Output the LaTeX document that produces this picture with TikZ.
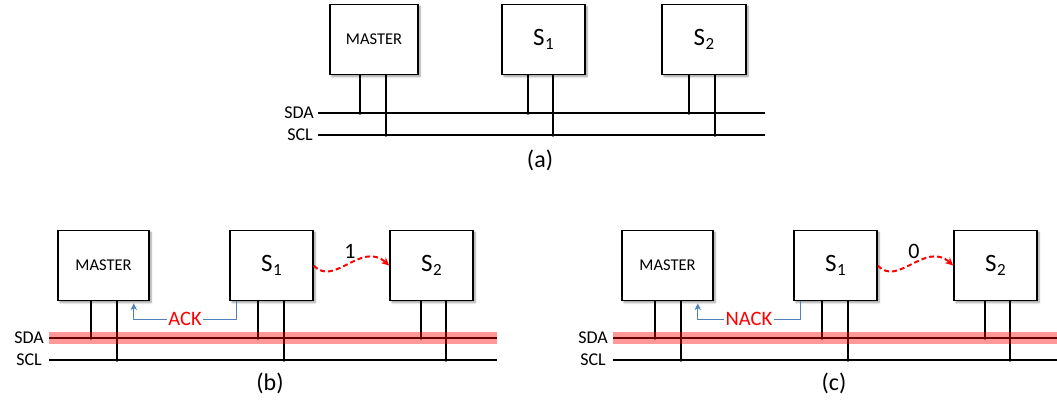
\documentclass[tikz,border=0pt]{standalone}
\usepackage{fontspec}
\setmainfont{Carlito}
\usetikzlibrary{shadows.blur,arrows.meta}
\definecolor{ackblue}{RGB}{79,129,189}
% slave name with a lowered index in the text font
\newcommand\slavename[1]{S\kern0.5pt\raisebox{-0.32ex}{\fontsize{17}{19}\selectfont #1}}
\begin{document}
\begin{tikzpicture}[x=1pt,y=-1pt,
  unit/.style={draw, line width=1.6pt, fill=white, inner sep=0pt,
    minimum height=70pt,
    blur shadow={shadow xshift=2pt, shadow yshift=-2pt,
      shadow blur steps=6, shadow opacity=40}},
  mastertxt/.style={font=\fontsize{16.5}{19}\selectfont},
  slavetxt/.style={font=\fontsize{25}{28}\selectfont},
  wire/.style={line width=2.5pt},
  tap/.style={circle, fill=black, inner sep=0pt, minimum size=3.6pt},
  buslbl/.style={font=\fontsize{18}{21}\selectfont, anchor=east, inner sep=0pt},
  caption/.style={font=\fontsize{24}{28}\selectfont},
  ackline/.style={draw=ackblue, line width=1.2pt,
    -{Stealth[length=7pt,width=6.5pt]}},
  acktxt/.style={text=red, fill=white, inner sep=1.5pt,
    font=\fontsize{20.5}{24}\selectfont},
  wave/.style={draw=red, dashed, dash pattern=on 5pt off 3pt, line width=2pt,
    -{Stealth[length=8pt,width=7.5pt]}},
  bitlbl/.style={font=\fontsize{22}{26}\selectfont},
  band/.style={draw=red, draw opacity=0.4, line width=12pt}
]
\useasboundingbox (0,0) rectangle (1057,404);

% ---------- (a) plain bus ----------
\node[unit, mastertxt, minimum width=88pt] (am)  at (374,39.5) {MASTER};
\node[unit, slavetxt,  minimum width=83pt] (as1) at (543.5,39.5) {\slavename{1}};
\node[unit, slavetxt,  minimum width=84pt] (as2) at (704,39.5) {\slavename{2}};

\coordinate (asdaL) at (318,113); \coordinate (asdaR) at (765,113);
\coordinate (asclL) at (318,135); \coordinate (asclR) at (765,135);
\draw[wire] (asdaL) -- (asdaR);
\draw[wire] (asclL) -- (asclR);
\node[buslbl] (asda) at ([xshift=-4pt]asdaL) {SDA};
\node[buslbl] (ascl) at ([xshift=-5pt]asclL) {SCL};

\foreach \xa/\xb in {360/386, 528/553, 689/715}{
  \draw[wire] (\xa,74) -- (\xa,113) node[tap]{};
  \draw[wire] (\xb,74) -- (\xb,135) node[tap]{};
}
\node[caption] (acap) at (540,160) {(a)};

% ---------- (b) and (c): acknowledge of the addressed slave ----------
\foreach \p/\dx/\bit/\ans/\lab in {b/0/1/ACK/(b), c/564/0/NACK/(c)}{
  \begin{scope}[xshift=\dx pt]
    \node[unit, mastertxt, minimum width=91pt] (\p m)  at (103.5,265.5) {MASTER};
    \node[unit, slavetxt,  minimum width=83pt] (\p s1) at (271.5,265.5) {\slavename{1}};
    \node[unit, slavetxt,  minimum width=83pt] (\p s2) at (431.5,265.5) {\slavename{2}};

    \coordinate (\p sdaL) at (49,338); \coordinate (\p sdaR) at (497,338);
    \coordinate (\p sclL) at (49,360); \coordinate (\p sclR) at (497,360);
    \draw[wire] (\p sdaL) -- (\p sdaR);
    \draw[wire] (\p sclL) -- (\p sclR);
    \node[buslbl] (\p sda) at ([xshift=-5pt]\p sdaL) {SDA};
    \node[buslbl] (\p scl) at ([xshift=-7pt]\p sclL) {SCL};

    \draw[wire] (91,301)  -- (91,338)  node[tap]{};
    \draw[wire] (117,301) -- (117,360) node[tap]{};
    \draw[wire] (258,301) -- (258,338) node[tap]{};
    \draw[wire] (284,301) -- (284,360) node[tap]{};
    \draw[wire] (421,301) -- (421,338) node[tap]{};
    \draw[wire] (446,301) -- (446,360) node[tap]{};

    % SDA held by the acknowledging slave
    \draw[band] (\p sdaL) -- (\p sdaR);

    % answer sent back to the master
    \coordinate (\p from) at ([xshift=7pt]\p s1.south west);
    \coordinate (\p to)   at ([xshift=-16pt,yshift=-2pt]\p m.south east);
    \draw[ackline] (\p from) -- ++(0,18) coordinate (\p turn)
      -- node[acktxt] (\p ack) {\ans} (\p turn -| \p to) -- (\p to);

    % bit passed on to the next slave
    \draw[wave] (\p s1.east) .. controls +(20,22) and +(-28,-25) .. (\p s2.west);
    \node[bitlbl] (\p bit) at (350,251) {\bit};

    \node[caption] (\p cap) at (270,383) {\lab};
  \end{scope}
}
\end{tikzpicture}
\end{document}
